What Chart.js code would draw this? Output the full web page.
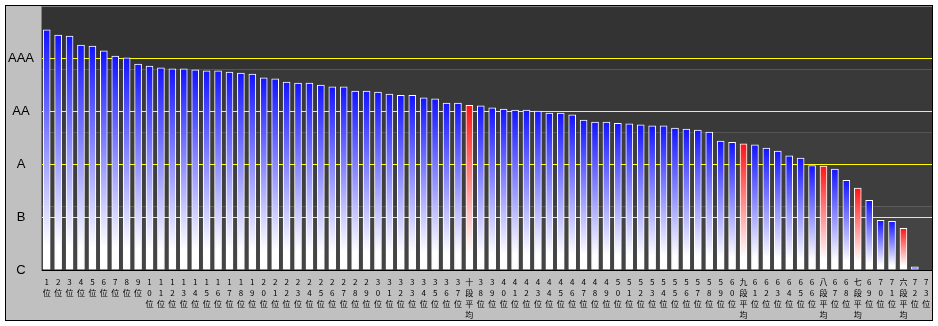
<!DOCTYPE html>
<html lang="ja">
<head>
<meta charset="utf-8">
<title>段位別スコア</title>
<script src="https://cdn.jsdelivr.net/npm/chart.js@4/dist/chart.umd.min.js"></script>
<style>
  html, body { margin: 0; padding: 0; background: #fff; }
  #wrap { width: 938px; height: 326px; }
</style>
</head>
<body>
<div id="wrap"><canvas id="rankChart" width="938" height="326"></canvas></div>
<script>
// 順位ごとのスコア(C=0 … AAA=4)と段位ごとの平均
const categories = [
    '1位', '2位', '3位', '4位', '5位', '6位', '7位', '8位', '9位', '10位',
    '11位', '12位', '13位', '14位', '15位', '16位', '17位', '18位', '19位', '20位',
    '21位', '22位', '23位', '24位', '25位', '26位', '27位', '28位', '29位', '30位',
    '31位', '32位', '33位', '34位', '35位', '36位', '37位', '十段平均', '38位', '39位',
    '40位', '41位', '42位', '43位', '44位', '45位', '46位', '47位', '48位', '49位',
    '50位', '51位', '52位', '53位', '54位', '55位', '56位', '57位', '58位', '59位',
    '60位', '九段平均', '61位', '62位', '63位', '64位', '65位', '66位', '八段平均', '67位',
    '68位', '七段平均', '69位', '70位', '71位', '六段平均', '72位', '73位'
];
const scores = [
    4.55, 4.45, 4.43, 4.26, 4.24, 4.15, 4.05, 4.02, 3.90, 3.86,
    3.83, 3.81, 3.81, 3.79, 3.77, 3.77, 3.75, 3.73, 3.71, 3.64,
    3.62, 3.56, 3.54, 3.54, 3.50, 3.47, 3.47, 3.39, 3.39, 3.37,
    3.33, 3.31, 3.31, 3.26, 3.24, 3.16, 3.16, 3.12, 3.11, 3.07,
    3.05, 3.03, 3.03, 3.01, 2.97, 2.97, 2.94, 2.84, 2.80, 2.80,
    2.78, 2.77, 2.75, 2.73, 2.73, 2.69, 2.67, 2.65, 2.61, 2.44,
    2.42, 2.39, 2.37, 2.31, 2.25, 2.16, 2.12, 1.98, 1.97, 1.91,
    1.70, 1.55, 1.32, 0.94, 0.92, 0.79, 0.06, null
];
const gradeLabels = ['C', 'B', 'A', 'AA', 'AAA'];

// 背景の帯(上から)
const bandColors = ['#333333', '#393939', '#3e3e3e', '#444444'];
const bandStops = [0, 0.24, 0.48, 0.76, 1];

const isAverage = label => label.endsWith('平均');

// 棒ごとに上から下へ白くなるグラデーション
const barFill = (c) => {
    const chart = c.chart;
    const area = chart.chartArea;
    const label = categories[c.dataIndex] || '';
    const solid = isAverage(label) ? 'rgb(255,20,20)' : 'rgb(20,20,255)';
    if (!area || c.raw == null) return solid;
    const y = chart.scales.y;
    const top = y.getPixelForValue(c.raw);
    const base = y.getPixelForValue(0);
    if (base - top < 1) return solid;
    const g = chart.ctx.createLinearGradient(0, top, 0, base);
    g.addColorStop(0, solid);
    g.addColorStop(0.9, '#ffffff');
    g.addColorStop(1, '#ffffff');
    return g;
};

const framePlugin = {
    id: 'frame',
    beforeDraw(chart) {
        const {ctx, chartArea: a, width, height} = chart;
        ctx.save();
        ctx.fillStyle = '#ffffff';
        ctx.fillRect(0, 0, width, height);
        ctx.fillStyle = '#c0c0c0';
        ctx.fillRect(5, 5, a.right - 5, height - 10);
        const h = a.bottom - a.top;
        for (let i = 0; i < bandColors.length; i++) {
            const y0 = a.top + h * bandStops[i];
            const y1 = a.top + h * bandStops[i + 1];
            ctx.fillStyle = bandColors[i];
            ctx.fillRect(a.left, y0, a.right - a.left, y1 - y0);
        }
        ctx.fillStyle = '#808080';
        ctx.fillRect(a.left, a.top, a.right - a.left, 1);
        ctx.restore();
    },
    afterDraw(chart) {
        const {ctx, chartArea: a, height} = chart;
        ctx.save();
        ctx.strokeStyle = '#000000';
        ctx.lineWidth = 1;
        ctx.strokeRect(5.5, 5.5, a.right - 5, height - 11);
        ctx.restore();
    }
};

new Chart(document.getElementById('rankChart'), {
    type: 'bar',
    data: {
        labels: categories.map(l => Array.from(l)),
        datasets: [{
            data: scores,
            backgroundColor: barFill,
            borderColor: '#ffffff',
            borderWidth: 1,
            barThickness: 7
        }]
    },
    options: {
        responsive: false,
        animation: false,
        events: [],
        devicePixelRatio: 1,
        layout: { padding: { left: 5, top: 6, right: 6, bottom: 5 } },
        plugins: {
            legend: { display: false },
            tooltip: { enabled: false }
        },
        scales: {
            x: {
                grid: { display: false, drawTicks: false },
                border: { color: '#000000', width: 1 },
                ticks: {
                    autoSkip: false,
                    maxRotation: 0,
                    minRotation: 0,
                    padding: 6,
                    color: '#000000',
                    font: { family: '"Noto Sans CJK JP", sans-serif', size: 8, lineHeight: '11px' }
                },
                afterFit(s) {
                    s.height = 51;
                    s.paddingLeft = 0;
                    s.paddingRight = 0;
                }
            },
            y: {
                min: 0,
                max: 5,
                grid: {
                    drawTicks: false,
                    lineWidth: 1,
                    color: c => (c.tick && c.tick.value > 0 && c.tick.value < 5) ? '#ffff00' : 'rgba(0,0,0,0)'
                },
                border: { color: '#808080', width: 1 },
                ticks: {
                    stepSize: 1,
                    padding: 7,
                    crossAlign: 'center',
                    color: '#000000',
                    font: { family: '"Liberation Sans", Arial, sans-serif', size: 13 },
                    callback: v => gradeLabels[v]
                },
                afterFit(s) {
                    s.width = 36;
                    s.paddingTop = 0;
                    s.paddingBottom = 0;
                }
            }
        }
    },
    plugins: [framePlugin]
});
</script>
</body>
</html>
